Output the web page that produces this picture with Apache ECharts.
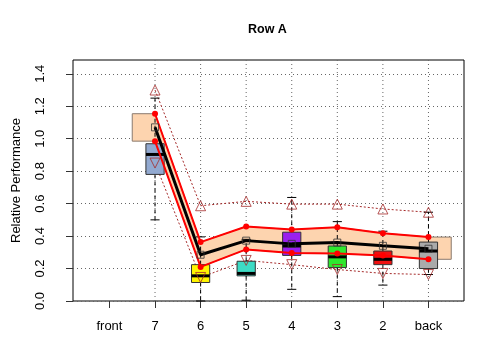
<!DOCTYPE html>
<html>
<head>
<meta charset="utf-8">
<script src="https://cdn.jsdelivr.net/npm/echarts@6/dist/echarts.min.js"></script>
<style>
  html, body { margin: 0; padding: 0; background: #fff; }
  #chart { width: 480px; height: 360px; }
</style>
</head>
<body>
<div id="chart"></div>
<script>
// categories along the x axis
const categories = ['front', '7', '6', '5', '4', '3', '2', 'back'];
const yTicks = [0, 0.2, 0.4, 0.6, 0.8, 1.0, 1.2, 1.4];

// positions that carry data
const boxLabels = ['7', '6', '5', '4', '3', '2', 'back'];

// boxplots
const boxLow  = [0.50, 0.00, 0.005, 0.072, 0.027, 0.098, 0.163];
const boxQ1   = [0.78, 0.114, 0.155, 0.281, 0.206, 0.224, 0.200];
const boxMed  = [0.903, 0.155, 0.170, 0.339, 0.272, 0.257, 0.308];
const boxQ3   = [0.969, 0.224, 0.245, 0.424, 0.339, 0.308, 0.363];
const boxHigh = [1.25, 0.00, 0.380, 0.638, 0.489, 0.430, 0.547];
boxHigh[1] = 0.395;

// mean line and its bounds
const meanVals  = [1.070, 0.285, 0.372, 0.352, 0.360, 0.340, 0.322];
const upperVals = [1.154, 0.363, 0.459, 0.440, 0.455, 0.418, 0.394];
const lowerVals = [0.985, 0.210, 0.318, 0.296, 0.292, 0.280, 0.257];

// extremes (triangles)
const maxVals = [1.300, 0.587, 0.614, 0.597, 0.597, 0.567, 0.547];
const minVals = [0.850, 0.145, 0.250, 0.224, 0.194, 0.170, 0.163];

const boxColors = ['#92A9D0', '#FFF500', '#3DDBC4', '#9A20EE', '#2EE82E', '#F01010', '#AAAAAA'];

const xs = boxLabels.map(l => categories.indexOf(l) + 1);
const X_MIN = 0.2, X_MAX = 8.78, Y_MIN = 0, Y_MAX = 1.485;
const pts = vals => vals.map((v, i) => [xs[i], v]);

var myChart = echarts.init(document.getElementById('chart'));

var option = {
    animation: false,
    graphic: [{
        type: 'text',
        left: 248,
        top: 23,
        style: { text: 'Row A', font: 'bold 12.5px "Liberation Sans", Arial', fill: '#000' }
    }],
    grid: {
        left: 73, right: 16, top: 60, bottom: 59,
        show: true, borderColor: '#000', borderWidth: 1,
        outerBoundsMode: 'none'
    },
    xAxis: {
        type: 'value', min: X_MIN, max: X_MAX,
        axisLine: { show: false },
        splitLine: { show: false },
        axisTick: { show: true, length: 7, customValues: [1, 2, 3, 4, 5, 6, 7, 8], lineStyle: { color: '#333' } },
        axisLabel: {
            customValues: [1, 2, 3, 4, 5, 6, 7, 8],
            formatter: v => categories[Math.round(v) - 1],
            margin: 19, fontSize: 13, color: '#000', fontFamily: 'Liberation Sans'
        }
    },
    yAxis: {
        type: 'value', min: Y_MIN, max: Y_MAX, interval: 0.2,
        name: 'Relative Performance', nameLocation: 'middle', nameGap: 50, nameRotate: 90,
        nameTextStyle: { fontSize: 13, color: '#000', fontFamily: 'Liberation Sans' },
        axisLine: { show: false },
        axisTick: { show: true, length: 7, customValues: yTicks, lineStyle: { color: '#333' } },
        axisLabel: {
            customValues: yTicks, rotate: 90, margin: 26,
            formatter: v => v.toFixed(1),
            fontSize: 13, color: '#000', fontFamily: 'Liberation Sans'
        },
        splitLine: { show: true, lineStyle: { color: '#666', type: [1, 3], width: 1 } }
    },
    series: [
        {
            // vertical dotted grid lines
            type: 'custom', z: 1, silent: true,
            data: xs.map(x => [x]),
            renderItem: function (params, api) {
                const x = api.value(0);
                const a = api.coord([x, Y_MIN]), b = api.coord([x, Y_MAX]);
                return { type: 'line', shape: { x1: a[0], y1: a[1], x2: b[0], y2: b[1] },
                    style: { stroke: '#666', lineWidth: 1, lineDash: [1, 3] } };
            }
        },
        {
            // band between the bounds
            type: 'custom', z: 2, silent: true,
            data: [[xs[0], upperVals[0]]],
            renderItem: function (params, api) {
                const n = xs.length;
                const top = [[xs[0] - 0.5, upperVals[0]]].concat(pts(upperVals), [[xs[n - 1] + 0.5, upperVals[n - 1]]]);
                const bot = [[xs[0] - 0.5, lowerVals[0]]].concat(pts(lowerVals), [[xs[n - 1] + 0.5, lowerVals[n - 1]]]);
                const points = top.concat(bot.reverse()).map(p => api.coord(p));
                return { type: 'polygon', shape: { points: points },
                    style: { fill: '#FDD4AF', stroke: '#8a7a6e', lineWidth: 1 } };
            }
        },
        {
            type: 'line', z: 3, data: pts(maxVals), symbol: 'none',
            lineStyle: { color: '#A52A2A', width: 1, type: [2, 2] }
        },
        {
            type: 'line', z: 3, data: pts(minVals), symbol: 'none',
            lineStyle: { color: '#A52A2A', width: 1, type: [2, 2] }
        },
        {
            // boxplots
            type: 'custom', z: 4,
            data: boxLabels.map((_, i) => [xs[i], boxLow[i], boxQ1[i], boxMed[i], boxQ3[i], boxHigh[i], i]),
            encode: { x: 0, y: [1, 2, 3, 4, 5] },
            renderItem: function (params, api) {
                const x = api.value(0);
                const lo = api.value(1), q1 = api.value(2), md = api.value(3), q3 = api.value(4), hi = api.value(5);
                const i = api.value(6);
                const hw = 0.2, cw = 0.1;
                const line = (x1, y1, x2, y2, style) => {
                    const a = api.coord([x1, y1]), b = api.coord([x2, y2]);
                    return { type: 'line', shape: { x1: a[0], y1: a[1], x2: b[0], y2: b[1] }, style: style };
                };
                const dash = { stroke: '#000', lineWidth: 1, lineDash: [4, 3] };
                const solid = { stroke: '#000', lineWidth: 1 };
                const tl = api.coord([x - hw, q3]), br = api.coord([x + hw, q1]);
                return {
                    type: 'group',
                    children: [
                        line(x, q3, x, hi, dash),
                        line(x, q1, x, lo, dash),
                        line(x - cw, hi, x + cw, hi, solid),
                        line(x - cw, lo, x + cw, lo, solid),
                        { type: 'rect', shape: { x: tl[0], y: tl[1], width: br[0] - tl[0], height: br[1] - tl[1] },
                          style: { fill: boxColors[i], stroke: '#333', lineWidth: 1 } },
                        line(x - hw, md, x + hw, md, { stroke: '#000', lineWidth: 3 })
                    ]
                };
            }
        },
        {
            type: 'line', z: 5, data: pts(meanVals), symbol: 'none',
            lineStyle: { color: '#000', width: 3 }
        },
        {
            type: 'line', z: 6, data: pts(upperVals), symbol: 'circle', symbolSize: 6,
            lineStyle: { color: '#FF0000', width: 2 }, itemStyle: { color: '#FF0000' }
        },
        {
            type: 'line', z: 6, data: pts(lowerVals), symbol: 'circle', symbolSize: 6,
            lineStyle: { color: '#FF0000', width: 2 }, itemStyle: { color: '#FF0000' }
        },
        {
            type: 'scatter', z: 7, data: pts(meanVals), symbol: 'rect', symbolSize: 7,
            itemStyle: { color: 'rgba(0,0,0,0)', borderColor: '#333', borderWidth: 1 }
        },
        {
            type: 'scatter', z: 7, data: pts(maxVals), symbol: 'triangle', symbolSize: 10,
            itemStyle: { color: 'rgba(0,0,0,0)', borderColor: '#A52A2A', borderWidth: 1 }
        },
        {
            type: 'scatter', z: 7, data: pts(minVals), symbol: 'triangle', symbolSize: 10, symbolRotate: 180,
            itemStyle: { color: 'rgba(0,0,0,0)', borderColor: '#A52A2A', borderWidth: 1 }
        }
    ]
};

myChart.setOption(option);
</script>
</body>
</html>
